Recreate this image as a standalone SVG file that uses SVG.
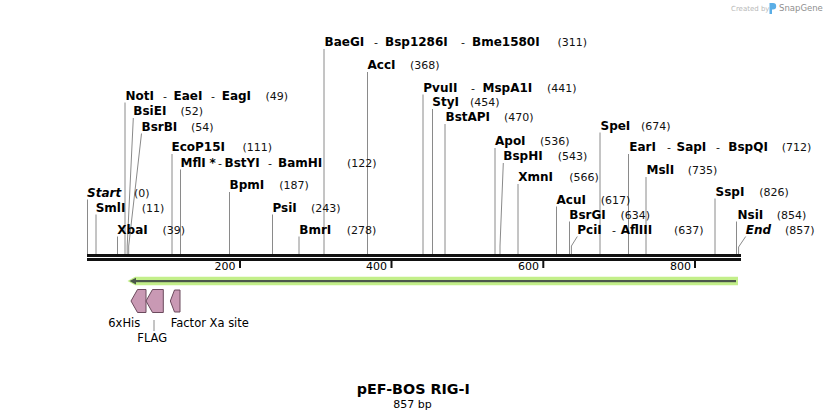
<svg xmlns="http://www.w3.org/2000/svg" width="828" height="420" viewBox="0 0 828 420">
<style>
.n{font-family:"DejaVu Sans",sans-serif;font-weight:bold;font-size:12px;fill:#000}
.ni{font-family:"DejaVu Sans",sans-serif;font-weight:bold;font-style:italic;font-size:12px;fill:#000}
.s{font-family:"DejaVu Sans",sans-serif;font-size:11px;fill:#000}
.p{font-family:"DejaVu Sans",sans-serif;font-size:11px;fill:#111}
.f{font-family:"DejaVu Sans",sans-serif;font-size:11.5px;fill:#000}
.c line,.c polyline{stroke:#8a8a8a;stroke-width:1;fill:none}
.feat{fill:#c999b4;stroke:#6b4a5d;stroke-width:1}
</style>
<rect width="828" height="420" fill="#fff"/>

<!-- watermark -->
<g id="watermark">
<text x="731" y="10.5" font-family="DejaVu Sans,sans-serif" font-size="7px" fill="#b8b8b8">Created by</text>
<path d="M769.5 3 h3.5 a3.2 3.2 0 0 1 0 6.4 h-1 v4.6 h-2.5 z" fill="#5aaee6"/>
<text x="779" y="11" font-family="DejaVu Sans,sans-serif" font-size="8.5px" fill="#8f8f8f">SnapGene</text>
</g>

<!-- connectors -->
<g id="connectors" class="c">
<line x1="324" y1="49" x2="324" y2="254"/>
<line x1="367.5" y1="72" x2="367.5" y2="254"/>
<line x1="423" y1="94.5" x2="423" y2="254"/>
<line x1="125" y1="102.5" x2="125" y2="254"/>
<line x1="432.5" y1="109" x2="432.5" y2="254"/>
<polyline points="133.3,118 127.2,246 127.2,254"/>
<line x1="445" y1="124" x2="445" y2="254"/>
<line x1="600" y1="132.5" x2="600" y2="254"/>
<polyline points="141.5,133.5 128.7,246 128.7,254"/>
<line x1="495" y1="148" x2="495" y2="254"/>
<line x1="172" y1="154" x2="172" y2="254"/>
<line x1="628.5" y1="154" x2="628.5" y2="254"/>
<polyline points="503.3,163 500,246 500,254"/>
<line x1="180.5" y1="169.5" x2="180.5" y2="254"/>
<line x1="646" y1="177" x2="646" y2="254"/>
<line x1="518" y1="184" x2="518" y2="254"/>
<line x1="229.5" y1="192" x2="229.5" y2="254"/>
<line x1="87.5" y1="199.5" x2="87.5" y2="254"/>
<line x1="715" y1="198.5" x2="715" y2="254"/>
<line x1="556.5" y1="206.5" x2="556.5" y2="254"/>
<line x1="96" y1="214.5" x2="96" y2="254"/>
<line x1="272.5" y1="214.5" x2="272.5" y2="254"/>
<line x1="569.5" y1="221.5" x2="569.5" y2="254"/>
<line x1="736.5" y1="221.5" x2="736.5" y2="254"/>
<line x1="117.5" y1="236.5" x2="117.5" y2="254"/>
<line x1="299" y1="236.5" x2="299" y2="254"/>
<polyline points="577.3,236.5 571.4,246 571.4,254"/>
<polyline points="745.7,236.5 738.6,247 738.6,254"/>
<line x1="154" y1="320" x2="154" y2="331" stroke="#555"/>
</g>

<!-- backbone -->
<g id="backbone">
<rect x="87" y="254" width="654" height="3" fill="#111"/>
<rect x="87" y="258" width="654" height="3" fill="#111"/>
<rect x="239" y="261" width="2" height="7" fill="#111"/>
<rect x="390.5" y="261" width="2" height="7" fill="#111"/>
<rect x="542.3" y="261" width="2" height="7" fill="#111"/>
<rect x="694" y="261" width="2" height="7" fill="#111"/>
<text class="s" x="235.5" y="270" text-anchor="end">200</text>
<text class="s" x="387" y="270" text-anchor="end">400</text>
<text class="s" x="539" y="270" text-anchor="end">600</text>
<text class="s" x="691" y="270" text-anchor="end">800</text>
</g>

<!-- enzyme labels -->
<g id="BaeGI"><text y="46"><tspan class="n" x="324.5">BaeGI</tspan><tspan class="p" x="374">-</tspan><tspan class="n" x="385">Bsp1286I</tspan><tspan class="p" x="461">-</tspan><tspan class="n" x="472">Bme1580I</tspan><tspan class="p" x="557.5">(311)</tspan></text></g>
<g id="AccI"><text y="69"><tspan class="n" x="367.5">AccI</tspan><tspan class="p" x="410">(368)</tspan></text></g>
<g id="PvuII"><text y="91.5"><tspan class="n" x="423.3">PvuII</tspan><tspan class="p" x="471">-</tspan><tspan class="n" x="482.5">MspA1I</tspan><tspan class="p" x="547">(441)</tspan></text></g>
<g id="NotI"><text y="99.5"><tspan class="n" x="125.5">NotI</tspan><tspan class="p" x="163">-</tspan><tspan class="n" x="173.5">EaeI</tspan><tspan class="p" x="211">-</tspan><tspan class="n" x="221.7">EagI</tspan><tspan class="p" x="265.5">(49)</tspan></text></g>
<g id="StyI"><text y="106"><tspan class="n" x="432.3">StyI</tspan><tspan class="p" x="470">(454)</tspan></text></g>
<g id="BsiEI"><text y="115"><tspan class="n" x="133.3">BsiEI</tspan><tspan class="p" x="180.5">(52)</tspan></text></g>
<g id="BstAPI"><text y="121"><tspan class="n" x="445.5">BstAPI</tspan><tspan class="p" x="504">(470)</tspan></text></g>
<g id="SpeI"><text y="129.5"><tspan class="n" x="600.5">SpeI</tspan><tspan class="p" x="641">(674)</tspan></text></g>
<g id="BsrBI"><text y="130.5"><tspan class="n" x="141.5">BsrBI</tspan><tspan class="p" x="191">(54)</tspan></text></g>
<g id="ApoI"><text y="145"><tspan class="n" x="495">ApoI</tspan><tspan class="p" x="540">(536)</tspan></text></g>
<g id="EcoP15I"><text y="151"><tspan class="n" x="171.5">EcoP15I</tspan><tspan class="p" x="242.5">(111)</tspan></text></g>
<g id="EarI"><text y="151"><tspan class="n" x="629.3">EarI</tspan><tspan class="p" x="667">-</tspan><tspan class="n" x="676.5">SapI</tspan><tspan class="p" x="716">-</tspan><tspan class="n" x="728.3">BspQI</tspan><tspan class="p" x="781.7">(712)</tspan></text></g>
<g id="BspHI"><text y="160"><tspan class="n" x="503.3">BspHI</tspan><tspan class="p" x="557.7">(543)</tspan></text></g>
<g id="MflI"><text y="166.5"><tspan class="n" x="180.5">MflI</tspan><tspan class="n" x="209.5">*</tspan><tspan class="p" x="218">-</tspan><tspan class="n" x="224.5">BstYI</tspan><tspan class="p" x="268">-</tspan><tspan class="n" x="278">BamHI</tspan><tspan class="p" x="347">(122)</tspan></text></g>
<g id="MslI"><text y="174"><tspan class="n" x="646.5">MslI</tspan><tspan class="p" x="687.7">(735)</tspan></text></g>
<g id="XmnI"><text y="181"><tspan class="n" x="518.3">XmnI</tspan><tspan class="p" x="569.3">(566)</tspan></text></g>
<g id="BpmI"><text y="189"><tspan class="n" x="229.5">BpmI</tspan><tspan class="p" x="279.3">(187)</tspan></text></g>
<g id="Start"><text y="196.5"><tspan class="ni" x="87">Start</tspan><tspan class="p" x="134">(0)</tspan></text></g>
<g id="SspI"><text y="195.5"><tspan class="n" x="715.5">SspI</tspan><tspan class="p" x="759.3">(826)</tspan></text></g>
<g id="AcuI"><text y="203.5"><tspan class="n" x="556.5">AcuI</tspan><tspan class="p" x="600.7">(617)</tspan></text></g>
<g id="SmlI"><text y="211.5"><tspan class="n" x="95.7">SmlI</tspan><tspan class="p" x="141.7">(11)</tspan></text></g>
<g id="PsiI"><text y="211.5"><tspan class="n" x="272.5">PsiI</tspan><tspan class="p" x="311">(243)</tspan></text></g>
<g id="BsrGI"><text y="218.5"><tspan class="n" x="569.3">BsrGI</tspan><tspan class="p" x="620.5">(634)</tspan></text></g>
<g id="NsiI"><text y="218.5"><tspan class="n" x="737.5">NsiI</tspan><tspan class="p" x="776.7">(854)</tspan></text></g>
<g id="XbaI"><text y="233.5"><tspan class="n" x="117.3">XbaI</tspan><tspan class="p" x="162.5">(39)</tspan></text></g>
<g id="BmrI"><text y="233.5"><tspan class="n" x="299.3">BmrI</tspan><tspan class="p" x="346.7">(278)</tspan></text></g>
<g id="PciI"><text y="233.5"><tspan class="n" x="577.3">PciI</tspan><tspan class="p" x="612">-</tspan><tspan class="n" x="620.7">AflIII</tspan><tspan class="p" x="674">(637)</tspan></text></g>
<g id="End"><text y="233.5"><tspan class="ni" x="745.7">End</tspan><tspan class="p" x="785">(857)</tspan></text></g>

<!-- features -->
<g id="insert">
<path d="M127.5 281 L135 276.8 L738 276.8 L738 285.2 L135 285.2 Z" fill="#c3ef8a"/>
<rect x="134" y="280" width="602" height="2.2" fill="#4a574a"/>
<path d="M129.5 281.1 L136 277.8 L136 284.4 Z" fill="#4a574a"/>
</g>
<g id="f6xHis">
<path class="feat" d="M131 301 L137.5 289.5 L146 289.5 L146 312.5 L137.5 312.5 Z"/>
<text class="f" x="108.3" y="326.5">6xHis</text>
</g>
<g id="FLAG">
<path class="feat" d="M146 301 L152.5 289.5 L163.3 289.5 L163.3 312.5 L152.5 312.5 Z"/>
<text class="f" x="137.3" y="342">FLAG</text>
</g>
<g id="FactorXa">
<path class="feat" d="M170.3 301 L174.5 290 L180 290 L180 312 L174.5 312 Z"/>
<text class="f" x="170.7" y="326.5">Factor Xa site</text>
</g>

<!-- title -->
<g id="title">
<text x="413.3" y="394" text-anchor="middle" font-family="DejaVu Sans,sans-serif" font-weight="bold" font-size="14.3px" fill="#000">pEF-BOS RIG-I</text>
<text x="412.5" y="407.5" text-anchor="middle" font-family="DejaVu Sans,sans-serif" font-size="11px" fill="#000">857 bp</text>
</g>
</svg>
